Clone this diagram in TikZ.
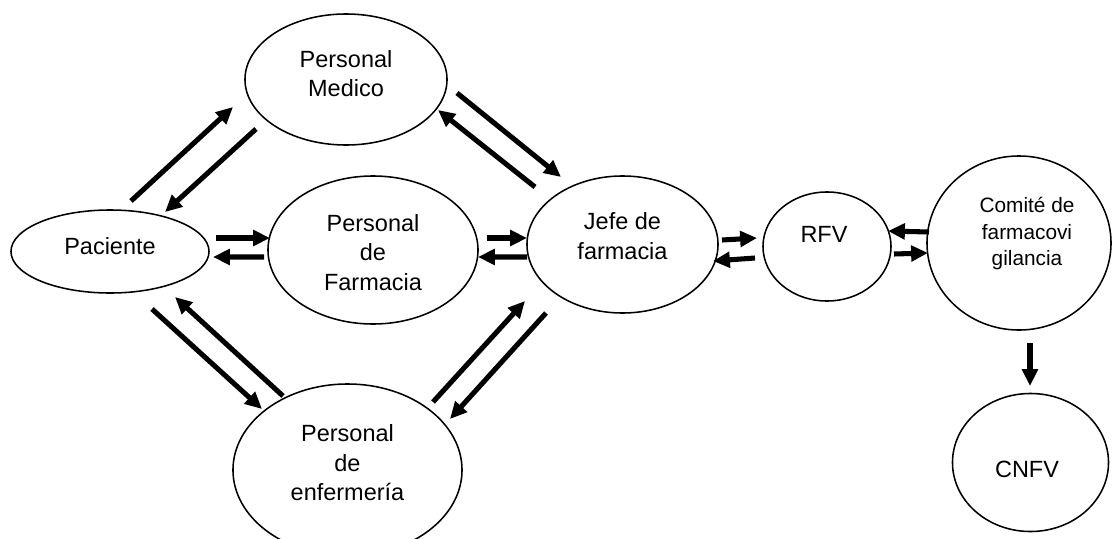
\documentclass[tikz,border=0pt]{standalone}
\usepackage{fontspec}
\setmainfont{Liberation Sans}
\usetikzlibrary{shapes.geometric,arrows.meta}
\begin{document}
\begin{tikzpicture}[x=0.025cm, y=-0.025cm,
		estado/.style={draw, ellipse, line width=1.1pt, inner sep=0pt},
		rotulo/.style={align=center, inner sep=0pt, font=\fontsize{16.7pt}{21pt}\selectfont},
		flecha/.style={line width=3.6pt, -{Triangle[length=12pt,width=11pt]}}]
	\useasboundingbox (0,0) rectangle (1112,539);

	\node[estado, minimum width=5.05cm, minimum height=3.275cm] (med) at (346,79.5) {};
	\node[estado, minimum width=4.95cm, minimum height=2.075cm] (pac) at (110,251.5) {};
	\node[estado, minimum width=5.25cm, minimum height=3.7cm] (farm) at (373,250) {};
	\node[estado, minimum width=4.775cm, minimum height=3.425cm] (jefe) at (622.5,244.5) {};
	\node[estado, minimum width=3.2cm, minimum height=2.725cm] (rfv) at (827,246.5) {};
	\node[estado, minimum width=4.6cm, minimum height=4.35cm] (com) at (1019,243) {};
	\node[estado, minimum width=3.9cm, minimum height=3.45cm] (cnfv) at (1030.5,462.5) {};
	\node[estado, minimum width=5.725cm, minimum height=4.3cm] (enf) at (347.5,470) {};

	\node[rotulo] (med-t) at ([shift={(0,-6)}]med.center) {Personal\\Medico};
	\node[rotulo] (pac-t) at ([shift={(0,-5)}]pac.center) {Paciente};
	\node[rotulo] (farm-t) at ([shift={(0,2.5)}]farm.center) {Personal\\de\\Farmacia};
	\node[rotulo] (jefe-t) at ([shift={(0,-8.5)}]jefe.center) {Jefe de\\farmacia};
	\node[rotulo] (rfv-t) at ([shift={(-3,-12)}]rfv.center) {RFV};
	\node[rotulo, font=\fontsize{14.8pt}{18.9pt}\selectfont] (com-t) at ([shift={(8,-9.5)}]com.center) {Comité de\\farmacovi\\gilancia};
	\node[rotulo] (cnfv-t) at ([shift={(-3.5,7)}]cnfv.center) {CNFV};
	\node[rotulo] (enf-t) at ([shift={(0,-7)}]enf.center) {Personal\\de\\enfermería};

	\draw[flecha] ([shift={(21,-50.5)}]pac.center) -- ([shift={(-113,27.5)}]med.center);
	\draw[flecha] ([shift={(-90,49.5)}]med.center) -- ([shift={(55,-39.5)}]pac.center);
	\draw[flecha] ([shift={(111,13.5)}]med.center) -- ([shift={(-61.5,-67.5)}]jefe.center);
	\draw[flecha] ([shift={(-87.5,-57.5)}]jefe.center) -- ([shift={(92,30.5)}]med.center);
	\draw[flecha] ([shift={(106,-13.5)}]pac.center) -- ([shift={(-103,-12)}]farm.center);
	\draw[flecha] ([shift={(-109,7)}]farm.center) -- ([shift={(103,5.5)}]pac.center);
	\draw[flecha] ([shift={(114,-12)}]farm.center) -- ([shift={(-95.5,-6.5)}]jefe.center);
	\draw[flecha] ([shift={(-95.5,12.5)}]jefe.center) -- ([shift={(105,7)}]farm.center);
	\draw[flecha] ([shift={(99.5,-4.5)}]jefe.center) -- ([shift={(-70,-8.5)}]rfv.center);
	\draw[flecha] ([shift={(-72,11.5)}]rfv.center) -- ([shift={(90.5,16.5)}]jefe.center);
	\draw[flecha] ([shift={(-90,-11)}]com.center) -- ([shift={(61,-15.5)}]rfv.center);
	\draw[flecha] ([shift={(67,7.5)}]rfv.center) -- ([shift={(-91,10)}]com.center);
	\draw[flecha] ([shift={(11,100)}]com.center) -- ([shift={(-0.5,-76.5)}]cnfv.center);
	\draw[flecha] ([shift={(42,57.5)}]pac.center) -- ([shift={(-85.5,-61)}]enf.center);
	\draw[flecha] ([shift={(-64.5,-74)}]enf.center) -- ([shift={(65,45.5)}]pac.center);
	\draw[flecha] ([shift={(85.5,-68)}]enf.center) -- ([shift={(-97.5,56.5)}]jefe.center);
	\draw[flecha] ([shift={(-76.5,68.5)}]jefe.center) -- ([shift={(102.5,-51)}]enf.center);
\end{tikzpicture}
\end{document}
